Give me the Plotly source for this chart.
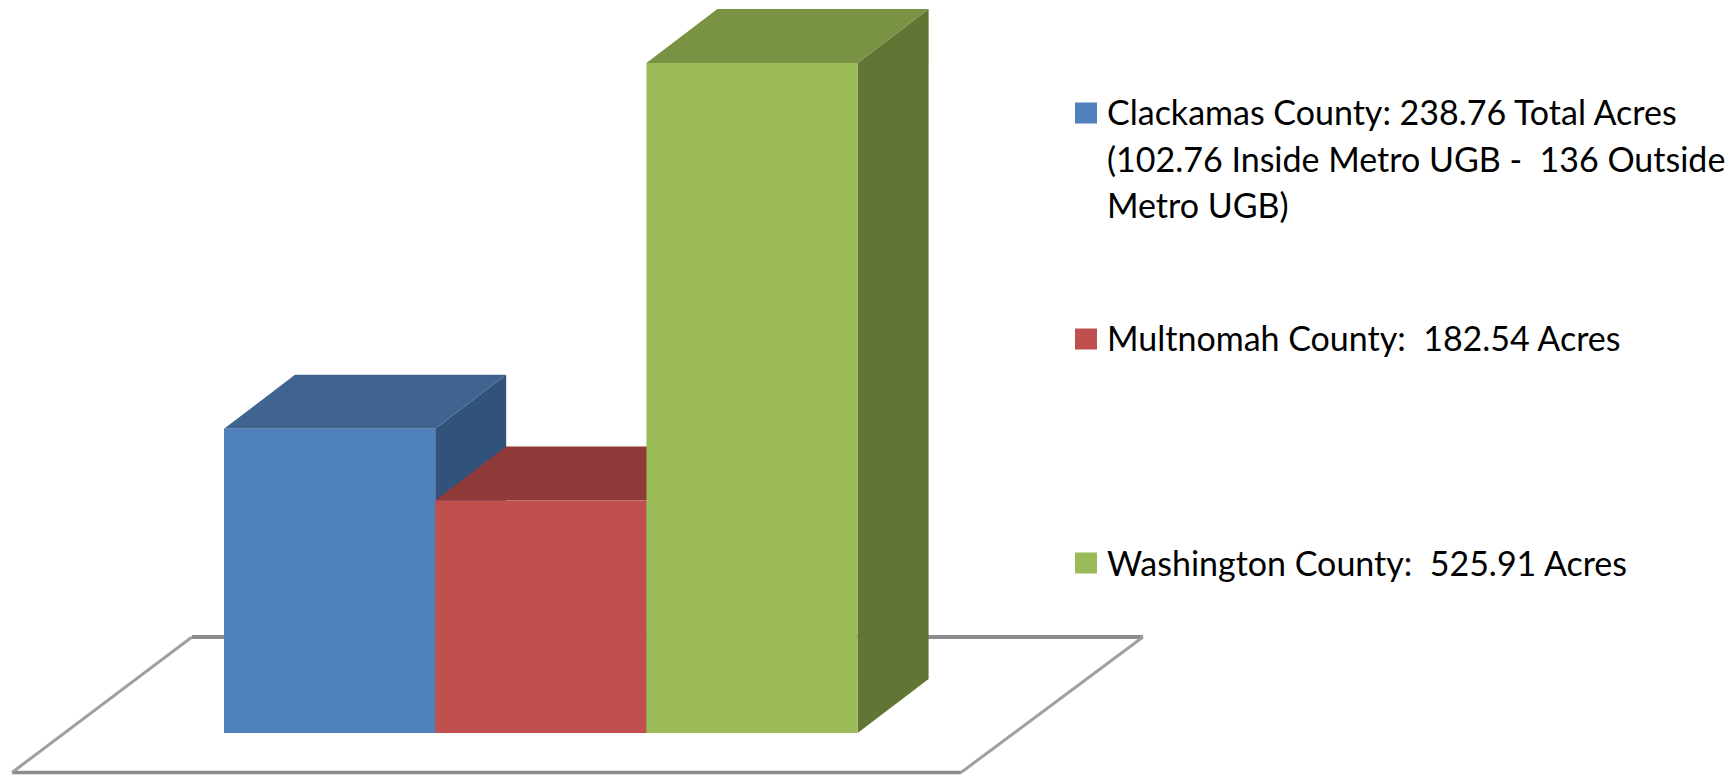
import plotly.graph_objects as go

counties = ["Clackamas County", "Multnomah County", "Washington County"]
acres = [238.76, 182.54, 525.91]
slots = [0, 1, 2]
front_colors = ["#4F81BD", "#C0504D", "#9BBB59"]
top_colors = ["#3F648F", "#8F3A38", "#799243"]
side_colors = ["#31527B", "#7A2F2D", "#637534"]
legend_lines = [
    ["Clackamas County: 238.76 Total Acres",
     "(102.76 Inside Metro UGB -  136 Outside",
     "Metro UGB)"],
    ["Multnomah County:  182.54 Acres"],
    ["Washington County:  525.91 Acres"],
]

# the page keeps its default 8px body margin, so the figure is 16px smaller
PAGE_MARGIN = 8
W, H = 1734 - 2 * PAGE_MARGIN, 775 - PAGE_MARGIN
PX_PER_SLOT = 211.2
PX_PER_ACRE = 1.274
BASE_PX = 733 - PAGE_MARGIN
LEFT_PX = 224 - PAGE_MARGIN
x0 = -0.5 - LEFT_PX / PX_PER_SLOT
x_range = [x0, x0 + W / PX_PER_SLOT]
y_range = [-(H - BASE_PX) / PX_PER_ACRE, BASE_PX / PX_PER_ACRE]
depth_x = 71 / PX_PER_SLOT
depth_y = 54 / PX_PER_ACRE

floor_x_back = [x0 + (192 - PAGE_MARGIN) / PX_PER_SLOT, x0 + (1143 - PAGE_MARGIN) / PX_PER_SLOT]
floor_x_front = [x0 + (12 - PAGE_MARGIN) / PX_PER_SLOT, x0 + (961 - PAGE_MARGIN) / PX_PER_SLOT]
floor_y_back = (733 - 637) / PX_PER_ACRE
floor_y_front = (733 - 772.5) / PX_PER_ACRE

fig = go.Figure()

# floor
fig.add_trace(go.Scatter(x=floor_x_back, y=[floor_y_back] * 2, mode="lines",
                         line=dict(color="#8C8C8C", width=4), hoverinfo="skip"))
fig.add_trace(go.Scatter(x=floor_x_front, y=[floor_y_front] * 2, mode="lines",
                         line=dict(color="#8C8C8C", width=3.5), hoverinfo="skip"))
for i in (0, 1):
    fig.add_trace(go.Scatter(x=[floor_x_front[i], floor_x_back[i]],
                             y=[floor_y_front, floor_y_back], mode="lines",
                             line=dict(color="#A0A0A0", width=3), hoverinfo="skip"))

# side and top faces of each bar, painted left to right
for s, v, top, side in zip(slots, acres, top_colors, side_colors):
    l, r = s - 0.5, s + 0.5
    fig.add_trace(go.Scatter(
        x=[r, r + depth_x, r + depth_x, r, r],
        y=[v, v + depth_y, depth_y, 0, v],
        mode="lines", fill="toself", fillcolor=side,
        line=dict(width=0, color=side), hoverinfo="skip"))
    fig.add_trace(go.Scatter(
        x=[l, r, r + depth_x, l + depth_x, l],
        y=[v, v, v + depth_y, v + depth_y, v],
        mode="lines", fill="toself", fillcolor=top,
        line=dict(width=0, color=top), hoverinfo="skip"))

# front faces, on overlaid axes so they sit above the faces behind them
fig.add_trace(go.Bar(x=slots, y=acres, width=1, marker=dict(color=front_colors, line=dict(width=0)),
                     xaxis="x2", yaxis="y2", customdata=counties,
                     hovertemplate="%{customdata}: %{y}<extra></extra>"))

# legend
block_tops = [112, 337, 562]
swatch_tops = [113, 339, 563]
LINE_PX = 46.5
swatch_half = 10.5
for top_px, sw_px, lines, color in zip(block_tops, swatch_tops, legend_lines, front_colors):
    fy = top_px - PAGE_MARGIN
    sy = sw_px - PAGE_MARGIN
    fig.add_shape(type="rect", xref="paper", yref="paper",
                  x0=(1075 - PAGE_MARGIN) / W, x1=(1097 - PAGE_MARGIN) / W,
                  y0=1 - (sy + swatch_half) / H, y1=1 - (sy - swatch_half) / H,
                  fillcolor=color, line=dict(width=0))
    for n, text in enumerate(lines):
        fig.add_annotation(xref="paper", yref="paper",
                           x=(1105 - PAGE_MARGIN) / W, y=1 - (fy + n * LINE_PX) / H,
                           xanchor="left", yanchor="middle", showarrow=False,
                           text=text.replace("  ", "&nbsp; "),
                           font=dict(family="Lato", size=34, color="#000000"))

fig.update_layout(
    width=W, height=H, margin=dict(l=0, r=0, t=0, b=0),
    paper_bgcolor="white", plot_bgcolor="white", showlegend=False,
    xaxis=dict(range=x_range, visible=False, fixedrange=True),
    yaxis=dict(range=y_range, visible=False, fixedrange=True),
    xaxis2=dict(range=x_range, visible=False, overlaying="x", fixedrange=True),
    yaxis2=dict(range=y_range, visible=False, overlaying="y", fixedrange=True),
)
fig.write_html("out.html", config=dict(responsive=False))
